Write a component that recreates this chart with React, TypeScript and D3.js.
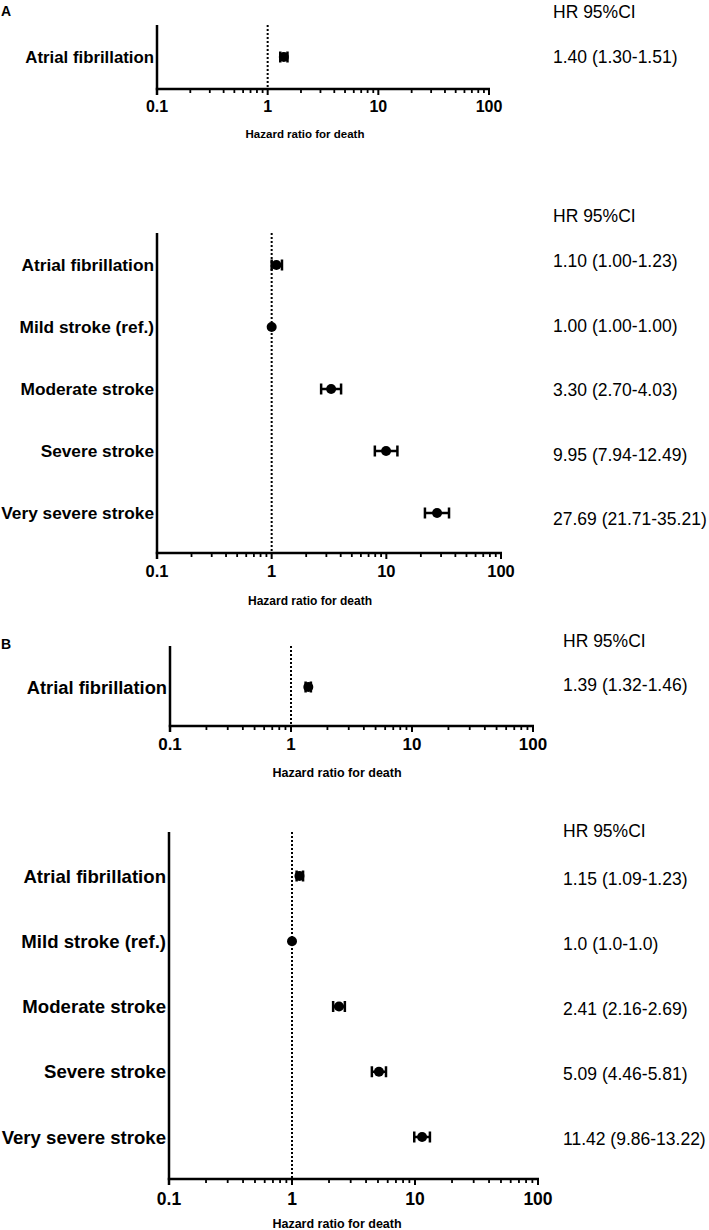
import * as d3 from "d3"

// ---- data ----
const axisTicks = [0.1, 1, 10, 100]
const axisTickLabels = ["0.1", "1", "10", "100"]

const rowsA1 = ["Atrial fibrillation"]
const hrA1 = [1.4]
const lowA1 = [1.3]
const highA1 = [1.51]
const textA1 = ["1.40 (1.30-1.51)"]

const rowsA2 = ["Atrial fibrillation", "Mild stroke (ref.)", "Moderate stroke", "Severe stroke", "Very severe stroke"]
const hrA2 = [1.1, 1.0, 3.3, 9.95, 27.69]
const lowA2 = [1.0, 1.0, 2.7, 7.94, 21.71]
const highA2 = [1.23, 1.0, 4.03, 12.49, 35.21]
const textA2 = ["1.10 (1.00-1.23)", "1.00 (1.00-1.00)", "3.30 (2.70-4.03)", "9.95 (7.94-12.49)", "27.69 (21.71-35.21)"]

const rowsB1 = ["Atrial fibrillation"]
const hrB1 = [1.39]
const lowB1 = [1.32]
const highB1 = [1.46]
const textB1 = ["1.39 (1.32-1.46)"]

const rowsB2 = ["Atrial fibrillation", "Mild stroke (ref.)", "Moderate stroke", "Severe stroke", "Very severe stroke"]
const hrB2 = [1.15, 1.0, 2.41, 5.09, 11.42]
const lowB2 = [1.09, 1.0, 2.16, 4.46, 9.86]
const highB2 = [1.23, 1.0, 2.69, 5.81, 13.22]
const textB2 = ["1.15 (1.09-1.23)", "1.0 (1.0-1.0)", "2.41 (2.16-2.69)", "5.09 (4.46-5.81)", "11.42 (9.86-13.22)"]

const headerText = "HR 95%CI"
const xTitle = "Hazard ratio for death"

const FONT = "'Liberation Sans', Arial, Helvetica, sans-serif"

interface PanelProps {
  rows: string[]
  hr: number[]
  low: number[]
  high: number[]
  texts: string[]
  x0: number
  x1: number
  top: number
  axisY: number
  firstRow: number
  lastRow: number
  textX: number
  headerY: number
  textFirst: number
  textLast: number
  labelSize: number
  tickSize: number
  titleSize: number
  titleX: number
  titleY: number
  tickLabelY: number
}

function Panel(p: PanelProps) {
  const x = d3.scaleLog().domain([0.1, 100]).range([p.x0, p.x1])
  const y = d3.scalePoint<string>().domain(p.rows).range([p.firstRow, p.lastRow])
  const ty = d3
    .scalePoint<string>()
    .domain(p.rows)
    .range([p.textFirst, p.textLast])
  const minor = x.ticks().filter((t) => !axisTicks.some((m) => Math.abs(m - t) < 1e-9))

  return (
    <g>
      {/* reference line at HR = 1 */}
      <line
        x1={x(1)}
        x2={x(1)}
        y1={p.top}
        y2={p.axisY}
        stroke="#000"
        strokeWidth={2}
        strokeDasharray="2,2"
      />
      {/* y axis */}
      <line x1={p.x0} x2={p.x0} y1={p.top} y2={p.axisY + 6} stroke="#000" strokeWidth={2.5} />
      {/* x axis */}
      <line x1={p.x0 - 1.25} x2={p.x1 + 1} y1={p.axisY} y2={p.axisY} stroke="#000" strokeWidth={2.5} />
      {minor.map((t, i) => (
        <line key={"m" + i} x1={x(t)} x2={x(t)} y1={p.axisY} y2={p.axisY + 4} stroke="#000" strokeWidth={1.8} />
      ))}
      {axisTicks.map((t, i) => (
        <g key={"t" + i}>
          <line x1={x(t)} x2={x(t)} y1={p.axisY} y2={p.axisY + 6} stroke="#000" strokeWidth={2} />
          <text
            x={x(t)}
            y={p.tickLabelY}
            textAnchor="middle"
            fontFamily={FONT}
            fontWeight="bold"
            fontSize={p.tickSize}
          >
            {axisTickLabels[i]}
          </text>
        </g>
      ))}
      <text
        x={p.titleX}
        y={p.titleY}
        textAnchor="middle"
        fontFamily={FONT}
        fontWeight="bold"
        fontSize={p.titleSize}
      >
        {xTitle}
      </text>

      {/* row labels */}
      {p.rows.map((r) => (
        <text
          key={"l" + r}
          x={p.x0 - 3}
          y={y(r)!}
          dy="0.36em"
          textAnchor="end"
          fontFamily={FONT}
          fontWeight="bold"
          fontSize={p.labelSize}
        >
          {r}
        </text>
      ))}

      {/* estimates with CI */}
      {p.rows.map((r, i) => {
        const cy = y(r)!
        const xl = x(p.low[i])
        const xh = x(p.high[i])
        return (
          <g key={"e" + r}>
            {p.low[i] !== p.high[i] && (
              <>
                <line x1={xl} x2={xh} y1={cy} y2={cy} stroke="#000" strokeWidth={2.5} />
                <line x1={xl} x2={xl} y1={cy - 5.5} y2={cy + 5.5} stroke="#000" strokeWidth={2.5} />
                <line x1={xh} x2={xh} y1={cy - 5.5} y2={cy + 5.5} stroke="#000" strokeWidth={2.5} />
              </>
            )}
            <circle cx={x(p.hr[i])} cy={cy} r={5} fill="#000" />
          </g>
        )
      })}

      {/* right column */}
      <text x={p.textX} y={p.headerY} fontFamily={FONT} fontSize={17.5}>
        {headerText}
      </text>
      {p.rows.map((r, i) => (
        <text key={"v" + r} x={p.textX} y={ty(r)!} dy="0.36em" fontFamily={FONT} fontSize={17.5}>
          {p.texts[i]}
        </text>
      ))}
    </g>
  )
}

export default function App() {
  return (
    <svg
      width={709}
      height={1230}
      style={{ position: "absolute", left: 0, top: 0, background: "#fff" }}
    >
      <rect width={709} height={1230} fill="#fff" />
      <text x={1} y={16} fontFamily={FONT} fontWeight="bold" fontSize={14}>
        A
      </text>
      <text x={1} y={649} fontFamily={FONT} fontWeight="bold" fontSize={14}>
        B
      </text>

      <Panel
        rows={rowsA1}
        hr={hrA1}
        low={lowA1}
        high={highA1}
        texts={textA1}
        x0={157}
        x1={489}
        top={25}
        axisY={89}
        firstRow={57}
        lastRow={57}
        textX={553}
        headerY={18}
        textFirst={57}
        textLast={57}
        labelSize={16.8}
        tickSize={16}
        titleSize={11.5}
        titleX={305}
        titleY={138}
        tickLabelY={112}
      />
      <Panel
        rows={rowsA2}
        hr={hrA2}
        low={lowA2}
        high={highA2}
        texts={textA2}
        x0={157}
        x1={501}
        top={233}
        axisY={553}
        firstRow={265}
        lastRow={513}
        textX={553}
        headerY={222}
        textFirst={261}
        textLast={519}
        labelSize={17.3}
        tickSize={16.5}
        titleSize={12}
        titleX={310}
        titleY={605}
        tickLabelY={577}
      />
      <Panel
        rows={rowsB1}
        hr={hrB1}
        low={lowB1}
        high={highB1}
        texts={textB1}
        x0={170}
        x1={533}
        top={646}
        axisY={726}
        firstRow={687}
        lastRow={687}
        textX={563}
        headerY={647}
        textFirst={685}
        textLast={685}
        labelSize={18.3}
        tickSize={17}
        titleSize={12.5}
        titleX={337}
        titleY={777}
        tickLabelY={750}
      />
      <Panel
        rows={rowsB2}
        hr={hrB2}
        low={lowB2}
        high={highB2}
        texts={textB2}
        x0={169}
        x1={538}
        top={832}
        axisY={1179}
        firstRow={876}
        lastRow={1137}
        textX={563}
        headerY={837}
        textFirst={879}
        textLast={1139}
        labelSize={18.6}
        tickSize={17.5}
        titleSize={12.5}
        titleX={337}
        titleY={1228}
        tickLabelY={1205}
      />
    </svg>
  )
}
